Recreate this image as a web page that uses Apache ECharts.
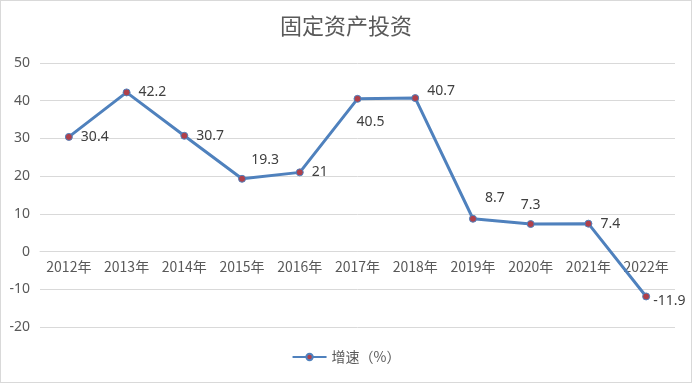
<!DOCTYPE html>
<html><head><meta charset="utf-8">
<script src="https://cdn.jsdelivr.net/npm/echarts@6/dist/echarts.min.js"></script>
<style>html,body{margin:0;padding:0;background:#fff}#c{width:692px;height:383px;box-sizing:border-box;border:1px solid #d9d9d9}</style>
</head><body><div id="c"></div>
<script>
const categories = ['2012年','2013年','2014年','2015年','2016年','2017年','2018年','2019年','2020年','2021年','2022年'];
const growth = [30.4, 42.2, 30.7, 19.3, 21, 40.5, 40.7, 8.7, 7.3, 7.4, -11.9];
const yTicks = { min: -20, max: 50, interval: 10 };
const labelPos = [
  {position:'right'},{position:'right'},{position:'right'},
  {position:'top', offset:[23,0]},{position:'right'},
  {position:'bottom', offset:[13,4]},{position:'right', offset:[0,-7]},
  {position:'top', offset:[22,-2]},{position:'top', offset:[0,0]},
  {position:'right'},{position:'right', distance:3, offset:[0,5]}
];
const chart = echarts.init(document.getElementById('c'));
chart.setOption({
  animation:false,
  title:{text:'固定资产投资',left:'center',top:9,textStyle:{fontFamily:'Noto Sans CJK SC',fontSize:22,fontWeight:'normal',color:'#595959'}},
  grid:{left:39,right:16,top:62,bottom:55},
  legend:{bottom:13,left:'center',itemWidth:34,itemHeight:8,textStyle:{fontFamily:'Noto Sans CJK SC',fontSize:14,color:'#595959'},data:['增速（%）']},
  xAxis:{type:'category',data:categories,offset:-76,axisLine:{show:true,onZero:false,lineStyle:{color:'#d9d9d9'}},axisTick:{show:false},
    axisLabel:{fontFamily:'Noto Sans CJK SC',fontSize:14,color:'#595959',margin:9,interval:0}},
  yAxis:{type:'value',min:yTicks.min,max:yTicks.max,interval:yTicks.interval,
    axisLabel:{fontFamily:'Noto Sans',fontSize:14,color:'#595959',margin:10},
    splitLine:{lineStyle:{color:'#d9d9d9'}}},
  series:[{name:'增速（%）',type:'line',data:growth.map((v,i)=>({value:v,label:labelPos[i]})),
    symbol:'circle',symbolSize:7,
    lineStyle:{color:'#4f81bd',width:3},
    itemStyle:{color:'#b0404a',borderColor:'#4f81bd',borderWidth:1},
    label:{show:true,fontFamily:'Noto Sans',fontSize:14,color:'#404040',distance:8}
  }]
});
</script></body></html>
